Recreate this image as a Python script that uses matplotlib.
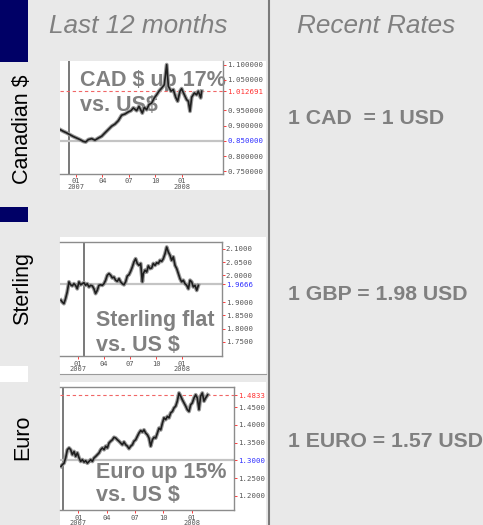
import matplotlib
matplotlib.use('Agg')
import matplotlib.pyplot as plt
from matplotlib.patches import Rectangle

plt.rcParams['font.family'] = ['Liberation Sans', 'DejaVu Sans']

# ---- data (months counted from Jan 2007) ----
cad_month = [-1.81, -1.43, -1.06, -0.68, -0.30, 0.08, 0.45, 0.83, 1.10, 1.40,
             1.78, 2.15, 2.53, 2.91, 3.28, 3.66, 4.04, 4.42, 4.79, 5.17,
             5.55, 5.93, 6.23, 6.49, 6.87, 7.13, 7.51, 7.74, 8.00, 8.27,
             8.57, 8.87, 9.13, 9.40, 9.70, 10.00, 10.27, 10.46, 10.76, 11.02,
             11.29, 11.51, 11.78, 11.96, 12.27, 12.53, 12.72, 12.91, 13.10, 13.40,
             13.66, 13.85, 14.12, 14.23]
cad_rate = [0.887, 0.881, 0.876, 0.870, 0.864, 0.859, 0.854, 0.848, 0.846, 0.854,
            0.857, 0.852, 0.859, 0.865, 0.876, 0.887, 0.898, 0.905, 0.916, 0.934,
            0.938, 0.945, 0.949, 0.958, 0.949, 0.963, 0.941, 0.960, 0.952, 0.969,
            0.974, 0.991, 1.001, 1.013, 1.023, 1.034, 1.100, 1.029, 1.013, 1.018,
            0.993, 0.980, 1.013, 1.021, 1.001, 0.985, 0.980, 0.947, 0.993, 1.007,
            1.001, 1.013, 0.991, 1.013]

gbp_month = [-1.92, -1.77, -1.58, -1.39, -1.20, -1.00, -0.81, -0.62, -0.43, -0.24,
             -0.05, 0.15, 0.34, 0.53, 0.72, 0.91, 1.10, 1.30, 1.49, 1.68,
             1.87, 2.06, 2.25, 2.44, 2.64, 2.83, 3.02, 3.21, 3.40, 3.60,
             3.79, 3.98, 4.17, 4.36, 4.55, 4.75, 4.94, 5.13, 5.32, 5.51,
             5.70, 5.90, 6.09, 6.28, 6.47, 6.66, 6.85, 7.05, 7.24, 7.43,
             7.54, 7.74, 7.93, 8.12, 8.31, 8.50, 8.69, 8.89, 9.08, 9.27,
             9.46, 9.65, 9.84, 10.04, 10.23, 10.42, 10.61, 10.80, 10.99, 11.19,
             11.38, 11.57, 11.76, 11.95, 12.14, 12.33, 12.53, 12.72, 12.91, 13.10,
             13.29, 13.48, 13.68, 13.87]
gbp_rate = [1.907, 1.900, 1.894, 1.913, 1.938, 1.976, 1.965, 1.961, 1.969, 1.963,
            1.950, 1.976, 1.965, 1.969, 1.973, 1.963, 1.969, 1.957, 1.963, 1.961,
            1.950, 1.932, 1.944, 1.963, 1.965, 1.963, 1.969, 1.982, 2.001, 2.007,
            2.001, 1.991, 1.994, 1.982, 1.978, 1.988, 1.976, 1.969, 1.965, 1.976,
            1.998, 2.003, 2.016, 2.032, 2.051, 2.063, 2.045, 2.038, 2.045, 1.976,
            2.007, 2.020, 2.013, 2.036, 2.026, 2.028, 2.045, 2.038, 2.048, 2.045,
            2.057, 2.053, 2.063, 2.082, 2.107, 2.088, 2.076, 2.057, 2.070, 2.038,
            2.026, 2.007, 1.988, 1.976, 1.982, 1.969, 1.963, 1.950, 1.982, 1.976,
            1.957, 1.963, 1.944, 1.963]

eur_month = [-1.83, -1.69, -1.51, -1.34, -1.16, -0.98, -0.81, -0.63, -0.45, -0.28,
             -0.10, 0.08, 0.25, 0.43, 0.61, 0.78, 0.96, 1.14, 1.31, 1.49,
             1.67, 1.84, 2.02, 2.20, 2.37, 2.55, 2.73, 2.90, 3.08, 3.25,
             3.43, 3.61, 3.78, 3.96, 4.14, 4.31, 4.49, 4.67, 4.84, 5.02,
             5.20, 5.37, 5.55, 5.73, 5.90, 6.08, 6.26, 6.43, 6.61, 6.79,
             6.96, 7.14, 7.32, 7.49, 7.67, 7.85, 8.02, 8.20, 8.38, 8.55,
             8.73, 8.91, 9.08, 9.26, 9.44, 9.61, 9.79, 9.97, 10.14, 10.32,
             10.49, 10.67, 10.85, 11.02, 11.20, 11.38, 11.55, 11.73, 11.91, 12.08,
             12.26, 12.44, 12.61, 12.79, 12.96, 13.14, 13.32, 13.49, 13.71]
eur_rate = [1.283, 1.288, 1.292, 1.307, 1.330, 1.335, 1.330, 1.316, 1.325, 1.311,
            1.321, 1.307, 1.297, 1.302, 1.295, 1.299, 1.292, 1.297, 1.302, 1.297,
            1.307, 1.311, 1.316, 1.321, 1.330, 1.335, 1.330, 1.340, 1.335, 1.349,
            1.354, 1.358, 1.365, 1.363, 1.358, 1.354, 1.349, 1.344, 1.352, 1.344,
            1.340, 1.333, 1.340, 1.344, 1.354, 1.358, 1.368, 1.377, 1.384, 1.380,
            1.386, 1.377, 1.372, 1.363, 1.340, 1.358, 1.365, 1.363, 1.377, 1.391,
            1.386, 1.405, 1.420, 1.415, 1.424, 1.420, 1.434, 1.438, 1.448, 1.453,
            1.467, 1.490, 1.481, 1.471, 1.462, 1.453, 1.443, 1.438, 1.457, 1.462,
            1.476, 1.485, 1.476, 1.443, 1.481, 1.490, 1.467, 1.476, 1.485]

month_ticks = [0, 3, 6, 9, 12]
month_labels = ['01\n2007', '04', '07', '10', '01\n2008']

cad_ticks = [1.10, 1.05, 1.012691, 0.95, 0.90, 0.85, 0.80, 0.75]
gbp_ticks = [2.10, 2.05, 2.00, 1.9666, 1.90, 1.85, 1.80, 1.75]
eur_ticks = [1.4833, 1.45, 1.40, 1.35, 1.30, 1.25, 1.20]

rates_text = ['1 CAD  = 1 USD', '1 GBP = 1.98 USD', '1 EURO = 1.57 USD']
row_names = ['Canadian $', 'Sterling', 'Euro']

W, H = 483, 525
GREY_TXT = '#808080'

fig = plt.figure(figsize=(W / 100, H / 100), dpi=100)
fig.patch.set_facecolor('#e9e9e9')

# background layer in pixel coordinates
bg = fig.add_axes([0, 0, 1, 1])
bg.set_xlim(0, W)
bg.set_ylim(H, 0)
bg.axis('off')


def box(x0, y0, x1, y1, color):
    bg.add_patch(Rectangle((x0, y0), x1 - x0, y1 - y0, facecolor=color, edgecolor='none'))


box(0, 0, 28.3, 61.7, '#000066')
box(0, 206.7, 28.3, 221.7, '#000066')
box(0, 366, 28.3, 381.7, 'white')
box(60, 61.3, 266, 189.7, 'white')
box(60, 237, 266, 373.7, 'white')
box(60, 382, 266, 525, 'white')
bg.plot([60, 266], [373.7, 373.7], color='#9a9a9a', lw=0.8)
bg.plot([268.5, 268.5], [0, H], color='#7a7a7a', lw=1.5)

bg.text(49.3, 33.3, 'Last 12 months', fontsize=18.8, style='italic', color=GREY_TXT, va='baseline')
bg.text(296.7, 33.3, 'Recent Rates', fontsize=18.8, style='italic', color=GREY_TXT, va='baseline')

for name, yc in zip(row_names, [129, 288.3, 437.5]):
    bg.text(28.3, yc, name, fontsize=15.5, rotation=90, rotation_mode='anchor',
            ha='center', va='baseline', color='black')

for s, yb in zip(rates_text, [124, 300, 447.3]):
    bg.text(288.3, yb, s, fontsize=15.3, fontweight='bold', color=GREY_TXT, va='baseline')


def chart(x0, y0, x1, y1, xlim, ylim, months, rates, yticks, fmt, colors,
          vline, ref, dash=None, top=True):
    ax = fig.add_axes([x0 / W, 1 - y1 / H, (x1 - x0) / W, (y1 - y0) / H])
    ax.set_facecolor('white')
    ax.set_xlim(*xlim)
    ax.set_ylim(*ylim)
    for sp in ax.spines.values():
        sp.set_color('#8c8c8c')
        sp.set_linewidth(1.0)
    ax.spines['left'].set_visible(False)
    ax.spines['top'].set_visible(top)
    ax.yaxis.tick_right()
    ax.set_yticks(yticks, [fmt % v for v in yticks])
    ax.set_xticks(month_ticks, month_labels)
    ax.tick_params(axis='y', left=False, right=True, color='#ff3b3b', length=2.2,
                   width=0.7, pad=0.8, labelsize=5.3)
    ax.tick_params(axis='x', color='#ff3b3b', length=1.8, width=0.7, pad=1.5,
                   labelsize=5, labelcolor='#555555')
    for lab, c in zip(ax.get_yticklabels(), colors):
        lab.set_color(c)
        lab.set_family('DejaVu Sans Mono')
    for lab in ax.get_xticklabels():
        lab.set_family('DejaVu Sans Mono')
        lab.set_linespacing(0.85)
    ax.axvline(vline, color='#555555', lw=1.1, zorder=1)
    ax.axhline(ref, color='#c4c4c4', lw=1.6, zorder=1)
    if dash is not None:
        ax.axhline(dash, color='#f06666', lw=0.8, dashes=(3, 2.5), zorder=1)
    ax.plot(months, rates, color='#9a9a9a', lw=2.8, zorder=2)
    ax.plot(months, rates, color='#1e1e1e', lw=1.2, zorder=3)
    return ax


def overlay(ax, x, y, s):
    ax.text(x, y, s, transform=bg.transData, fontsize=15.5, fontweight='bold',
            color=GREY_TXT, va='baseline', zorder=1.5)


dark, red, blue = '#555555', '#ff3030', '#3030ff'

ax1 = chart(60, 61.3, 223.3, 173.7, (-1.81, 16.68), (0.742, 1.111), cad_month, cad_rate,
            cad_ticks, '%.6f', [dark, dark, red, dark, dark, blue, dark, dark],
            vline=-0.79, ref=0.85, dash=1.012691, top=False)
overlay(ax1, 80, 86.3, 'CAD $ up 17%')
overlay(ax1, 80, 111.3, 'vs. US$')

ax2 = chart(60, 242, 221.7, 356, (-2.03, 16.55), (1.697, 2.126), gbp_month, gbp_rate,
            gbp_ticks, '%.4f', [dark, dark, dark, blue, dark, dark, dark, dark],
            vline=0.72, ref=1.9666)
overlay(ax2, 95.7, 326.3, 'Sterling flat')
overlay(ax2, 95.7, 351, 'vs. US $')

ax3 = chart(60, 387, 234.3, 510.3, (-1.94, 16.53), (1.159, 1.507), eur_month, eur_rate,
            eur_ticks, '%.4f', [red, dark, dark, dark, blue, dark, dark],
            vline=-1.59, ref=1.30, dash=1.4833)
overlay(ax3, 95.7, 478, 'Euro up 15%')
overlay(ax3, 95.7, 500.7, 'vs. US $')

fig.savefig('out.png', dpi=100, facecolor=fig.get_facecolor())
